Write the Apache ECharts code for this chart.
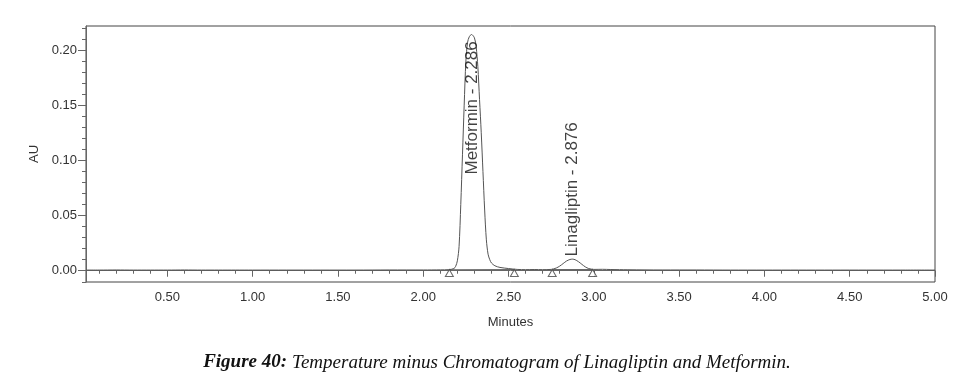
<!DOCTYPE html>
<html>
<head>
<meta charset="utf-8">
<script src="https://cdn.jsdelivr.net/npm/echarts@6/dist/echarts.min.js"></script>
<style>
html,body{margin:0;padding:0;background:#fff;}
#chart{width:960px;height:383px;}
</style>
</head>
<body>
<div id="chart"></div>
<script>
// Chromatogram trace (minutes, AU)
const times = [0.023, 0.1, 0.2, 0.3, 0.4, 0.5, 0.6, 0.7, 0.8, 0.9, 1.0, 1.2, 1.4, 1.6, 1.8, 2.0, 2.1, 2.15, 2.18, 2.19, 2.20, 2.21, 2.22, 2.23, 2.24, 2.25, 2.26, 2.27, 2.283, 2.30, 2.31, 2.32, 2.33, 2.34, 2.35, 2.36, 2.37, 2.38, 2.39, 2.40, 2.42, 2.45, 2.50, 2.55, 2.60, 2.65, 2.70, 2.75, 2.78, 2.80, 2.82, 2.84, 2.86, 2.876, 2.89, 2.91, 2.93, 2.95, 2.97, 3.00, 3.05, 3.10, 3.2, 3.4, 3.6, 3.8, 4.0, 4.2, 4.4, 4.6, 4.8, 5.0];
const absorb = [0.0006, 0.0006, 0.0007, 0.0006, 0.0006, 0.0006, 0.0007, 0.0006, 0.0006, 0.0006, 0.0006, 0.0006, 0.0006, 0.0006, 0.0007, 0.0007, 0.0008, 0.0010, 0.0020, 0.0040, 0.0090, 0.0220, 0.0600, 0.1050, 0.1500, 0.1900, 0.2070, 0.2120, 0.2140, 0.2110, 0.2030, 0.1850, 0.1550, 0.1250, 0.0900, 0.0550, 0.0280, 0.0150, 0.0100, 0.0070, 0.0045, 0.0030, 0.0020, 0.0012, 0.0010, 0.0011, 0.0010, 0.0012, 0.0025, 0.0042, 0.0065, 0.0088, 0.0102, 0.0105, 0.0100, 0.0082, 0.0058, 0.0035, 0.0020, 0.0012, 0.0013, 0.0011, 0.0009, 0.0007, 0.0007, 0.0006, 0.0006, 0.0006, 0.0006, 0.0006, 0.0006, 0.0006];

// Peak annotations
const peakNames = ['Metformin - 2.286', 'Linagliptin - 2.876'];
const peakTimes = [2.288, 2.878];
const peakLabelAU = [0.0867, 0.0125];

// Integration markers (triangles) and baselines
const markerTimes = [2.153, 2.534, 2.756, 2.993];
const markerAU = [-0.0021, -0.0021, -0.0021, -0.0021];
const baseSegA = [[2.153, 0.0009], [2.534, 0.0011]];
const baseSegB = [[2.756, 0.0011], [2.993, 0.0011]];

// Axes
const xMin = 0.023, xMax = 5.0;
const yMin = -0.0102, yMax = 0.2217;
const xMajor = [0.5, 1.0, 1.5, 2.0, 2.5, 3.0, 3.5, 4.0, 4.5, 5.0];
const xMinor = [0.1, 0.2, 0.3, 0.4, 0.6, 0.7, 0.8, 0.9, 1.1, 1.2, 1.3, 1.4, 1.6, 1.7, 1.8, 1.9, 2.1, 2.2, 2.3, 2.4, 2.6, 2.7, 2.8, 2.9, 3.1, 3.2, 3.3, 3.4, 3.6, 3.7, 3.8, 3.9, 4.1, 4.2, 4.3, 4.4, 4.6, 4.7, 4.8, 4.9];
const yMajor = [0.00, 0.05, 0.10, 0.15, 0.20];
const yMinor = [-0.01, 0.01, 0.02, 0.03, 0.04, 0.06, 0.07, 0.08, 0.09, 0.11, 0.12, 0.13, 0.14, 0.16, 0.17, 0.18, 0.19, 0.21, 0.22];

const trace = times.map((t, i) => [t, absorb[i]]);
const peaks = peakTimes.map((t, i) => [t, peakLabelAU[i], peakNames[i]]);
const markers = markerTimes.map((t, i) => [t, markerAU[i]]);
const baselines = baseSegA.concat([[null, null]], baseSegB);

const axisColor = '#666';
const font = 'Liberation Sans, Arial, sans-serif';
const serif = 'Liberation Serif, Times New Roman, serif';

const chart = echarts.init(document.getElementById('chart'), null, {renderer: 'canvas'});
chart.setOption({
  animation: false,
  backgroundColor: '#fff',
  title: {
    left: 492, top: 348, textAlign: 'center',
    text: '{b|Figure 40:} {i|Temperature minus Chromatogram of Linagliptin and Metformin.}',
    textStyle: {
      fontWeight: 'normal',
      rich: {
        b: {fontFamily: serif, fontStyle: 'italic', fontWeight: 'bold', fontSize: 19, color: '#111'},
        i: {fontFamily: serif, fontStyle: 'italic', fontWeight: 'normal', fontSize: 19, color: '#111'}
      }
    }
  },
  grid: {left: 86, right: 25, top: 26, bottom: 101, show: true, borderColor: '#444', borderWidth: 1, backgroundColor: 'transparent'},
  xAxis: [{
    type: 'value', min: xMin, max: xMax, position: 'bottom',
    name: 'Minutes', nameLocation: 'middle', nameGap: 34,
    nameTextStyle: {fontFamily: font, fontSize: 13, color: '#333'},
    axisLine: {show: true, lineStyle: {color: axisColor}},
    axisTick: {show: true, length: 6, customValues: xMajor, lineStyle: {color: axisColor}},
    axisLabel: {show: true, customValues: xMajor, margin: 9, fontFamily: font, fontSize: 13, color: '#333', formatter: v => v.toFixed(2)},
    splitLine: {show: false}
  }, {
    type: 'value', min: xMin, max: xMax, position: 'bottom',
    axisLine: {show: false},
    axisTick: {show: true, length: 3, customValues: xMinor, lineStyle: {color: axisColor}},
    axisLabel: {show: false},
    splitLine: {show: false}
  }],
  yAxis: [{
    type: 'value', min: yMin, max: yMax, position: 'left',
    name: 'AU', nameLocation: 'middle', nameGap: 45,
    nameTextStyle: {fontFamily: font, fontSize: 13, color: '#333'},
    axisLine: {show: true, lineStyle: {color: axisColor}},
    axisTick: {show: true, length: 8, customValues: yMajor, lineStyle: {color: axisColor}},
    axisLabel: {show: true, customValues: yMajor, margin: 9, fontFamily: font, fontSize: 13, color: '#333', formatter: v => v.toFixed(2)},
    splitLine: {show: false}
  }, {
    type: 'value', min: yMin, max: yMax, position: 'left',
    axisLine: {show: false},
    axisTick: {show: true, length: 4, customValues: yMinor, lineStyle: {color: axisColor}},
    axisLabel: {show: false},
    splitLine: {show: false}
  }],
  series: [{
    type: 'line', data: trace, symbol: 'none', smooth: 0.3,
    lineStyle: {color: '#555', width: 1}, z: 3
  }, {
    type: 'line', data: baselines, symbol: 'none', connectNulls: false,
    lineStyle: {color: '#666', width: 1}, z: 2
  }, {
    type: 'scatter', data: markers, symbol: 'triangle', symbolSize: [8, 7],
    itemStyle: {color: '#fff', borderColor: '#444', borderWidth: 1}, z: 4
  }, {
    type: 'scatter', data: peaks, symbolSize: 1, itemStyle: {color: 'rgba(0,0,0,0)'},
    label: {
      show: true, position: [0, 0], rotate: 90, align: 'left', verticalAlign: 'middle',
      fontFamily: font, fontSize: 17, color: '#111',
      formatter: p => p.value[2]
    }, z: 5
  }]
});
</script>
</body>
</html>
